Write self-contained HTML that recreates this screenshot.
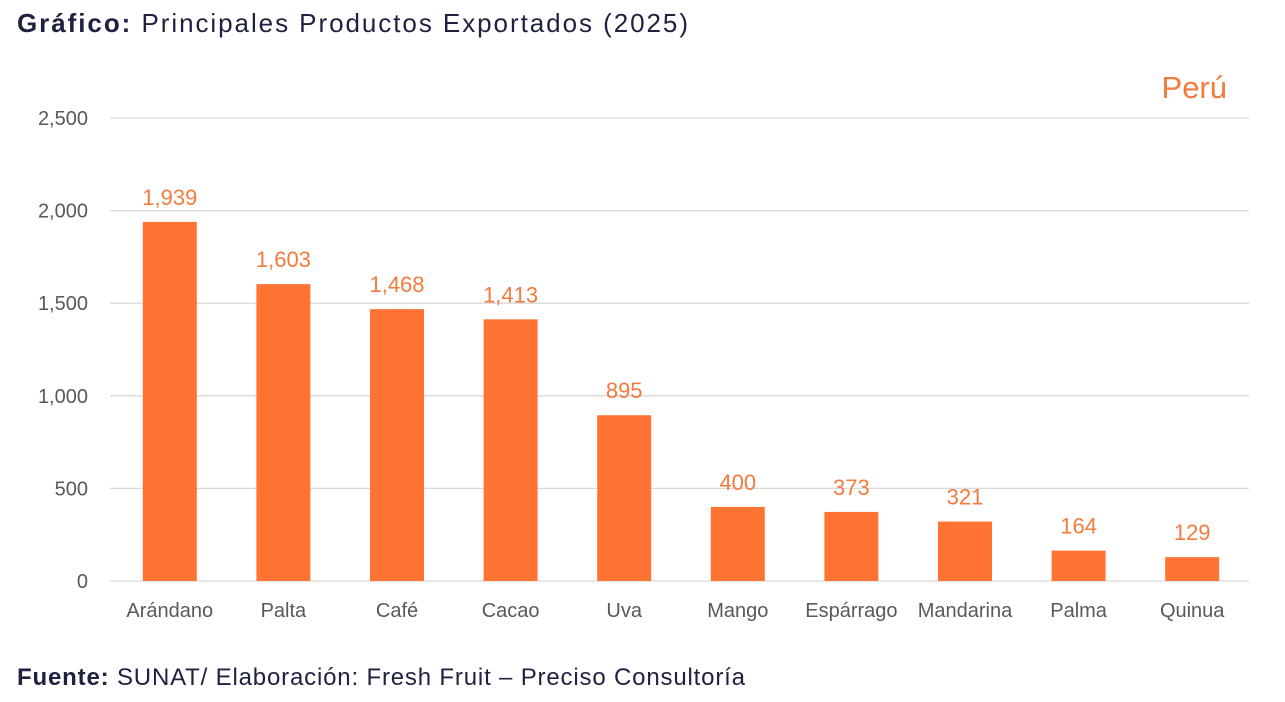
<!DOCTYPE html>
<html><head><meta charset="utf-8"><style>
body{margin:0;background:#fff;width:1285px;height:697px;overflow:hidden;font-family:"Liberation Sans",sans-serif}
</style></head><body>
<svg width="1285" height="697" xmlns="http://www.w3.org/2000/svg">
<text x="17" y="32" font-size="26" fill="#1F2140" textLength="671" lengthAdjust="spacing"><tspan font-weight="bold">Gráfico:</tspan> Principales Productos Exportados (2025)</text>
<text x="1227" y="98" font-size="31" fill="#F47A3E" text-anchor="end">Perú</text>
<g id="grid"></g><g id="bars"></g>
<text x="17" y="685" font-size="24" fill="#1F2140" textLength="728" lengthAdjust="spacing"><tspan font-weight="bold">Fuente:</tspan> SUNAT/ Elaboración: Fresh Fruit – Preciso Consultoría</text>
</svg>
<script>
const categories=["Arándano","Palta","Café","Cacao","Uva","Mango","Espárrago","Mandarina","Palma","Quinua"];
const values=[1939,1603,1468,1413,895,400,373,321,164,129];
const ticks=[0,500,1000,1500,2000,2500];
const tickLabels=["0","500","1,000","1,500","2,000","2,500"];
const NS="http://www.w3.org/2000/svg";
const x0=113,x1=1249,yb=581,yt=118,maxV=2500;
const y=v=>yb-(v/maxV)*(yb-yt);
const band=(x1-x0)/categories.length;
const xc=i=>x0+band*(i+0.5);
function mk(t,a,p){const e=document.createElementNS(NS,t);for(const k in a)e.setAttribute(k,a[k]);p.appendChild(e);return e;}
const g=document.getElementById('grid'),b=document.getElementById('bars');
ticks.forEach((t,i)=>{
const l=mk('line',{x1:110,x2:x1,y1:y(t),y2:y(t),stroke:'#D9D9D9','stroke-width':1.3},g);


const tx=mk('text',{x:88,y:y(t)+7,'font-size':20,fill:'#595959','text-anchor':'end'},g);
tx.textContent=tickLabels[i];


});
const fmt=v=>v.toLocaleString('en-US');
values.forEach((v,i)=>{
const r=mk('rect',{x:xc(i)-27,y:y(v),width:54,height:yb-y(v),fill:'#FF7433'},b);


const t=mk('text',{x:xc(i),y:y(v)-17,'font-size':22,fill:'#F47A3E','text-anchor':'middle'},b);
t.textContent=fmt(v);


const c=mk('text',{x:xc(i),y:617,'font-size':20,fill:'#595959','text-anchor':'middle'},b);
c.textContent=categories[i];


});
</script>
</body></html>
